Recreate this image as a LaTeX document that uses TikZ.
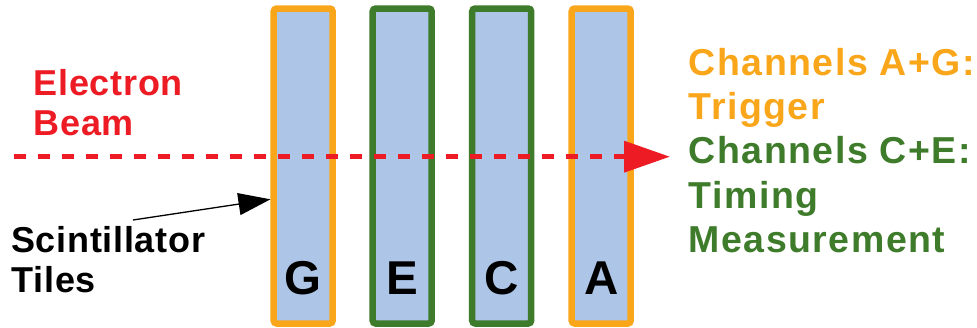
\documentclass[tikz,border=0pt]{standalone}
\usepackage{fontspec}
\setmainfont{Liberation Sans}
\newfontfamily\tagfont[LetterSpace=2]{Liberation Sans}
\newfontfamily\legendfont[LetterSpace=4]{Liberation Sans}
\usetikzlibrary{arrows.meta,calc}
\definecolor{trigorange}{HTML}{F9A61B}
\definecolor{timegreen}{HTML}{3E7B2A}
\definecolor{tilefill}{HTML}{ADC5E7}
\definecolor{beamred}{HTML}{ED1C24}
\begin{document}
\begin{tikzpicture}[x=1pt,y=-1pt,
  tilebox/.style={draw, fill=tilefill, line width=6.5pt, rounded corners=3pt,
    minimum width=59pt, minimum height=315pt, inner sep=0pt},
  tileletter/.style={anchor=base, inner sep=0pt, text=black,
    font=\fontsize{47.5}{50}\selectfont\bfseries},
  beamtext/.style={anchor=base west, inner sep=0pt, text=beamred,
    font=\tagfont\fontsize{36}{40}\selectfont\bfseries},
  tiletext/.style={anchor=base west, inner sep=0pt, text=black,
    font=\tagfont\fontsize{36}{40}\selectfont\bfseries},
  legend/.style={anchor=base west, inner sep=0pt,
    font=\legendfont\fontsize{37.5}{44}\selectfont\bfseries},
  beamline/.style={draw=beamred, line width=5pt, dash pattern=on 12pt off 12pt,
    -{Triangle[length=46pt,width=30.6pt]}},
  pointer/.style={draw=black, line width=1.3pt,
    -{Triangle[length=32pt,width=22pt]}}]
\useasboundingbox (0,0) rectangle (977,327);

% scintillator tiles
\node[tilebox, draw=trigorange] (G) at (303.2,166) {};
\node[tilebox, draw=timegreen]  (E) at (402.2,166) {};
\node[tilebox, draw=timegreen]  (C) at (501.7,166) {};
\node[tilebox, draw=trigorange] (A) at (601.2,166) {};

% channel letters
\node[tileletter] (Gl) at (303.2,294) {G};
\node[tileletter] (El) at (402.2,294) {E};
\node[tileletter] (Cl) at (501.7,294) {C};
\node[tileletter] (Al) at (601.2,294) {A};

% beam label
\node[beamtext] (beam1) at (33.5,95) {Electron};
\node[beamtext] (beam2) at (33.5,135) {Beam};

% tiles label
\node[tiletext] (tiles1) at (11,252.5) {Scintillator};
\node[tiletext] (tiles2) at (11.5,292) {Tiles};

% channel legend
\node[legend, text=trigorange] (leg1) at (688.5,75)  {Channels A+G:};
\node[legend, text=trigorange] (leg2) at (688.5,119) {Trigger};
\node[legend, text=timegreen]  (leg3) at (688.5,163.5) {Channels C+E:};
\node[legend, text=timegreen]  (leg4) at (688.5,208) {Timing};
\node[legend, text=timegreen]  (leg5) at (688.5,252) {Measurement};

% electron beam
\coordinate (beamstart) at (14,156.7);
\coordinate (beamtip) at (670,156.7);
\draw[beamline] (beamstart) -- (beamtip);

% pointer to the tiles
\coordinate (pointerstart) at (133,220);
\draw[pointer] (pointerstart) -- ($(G.west)+(0,33.3)$);
\end{tikzpicture}
\end{document}
